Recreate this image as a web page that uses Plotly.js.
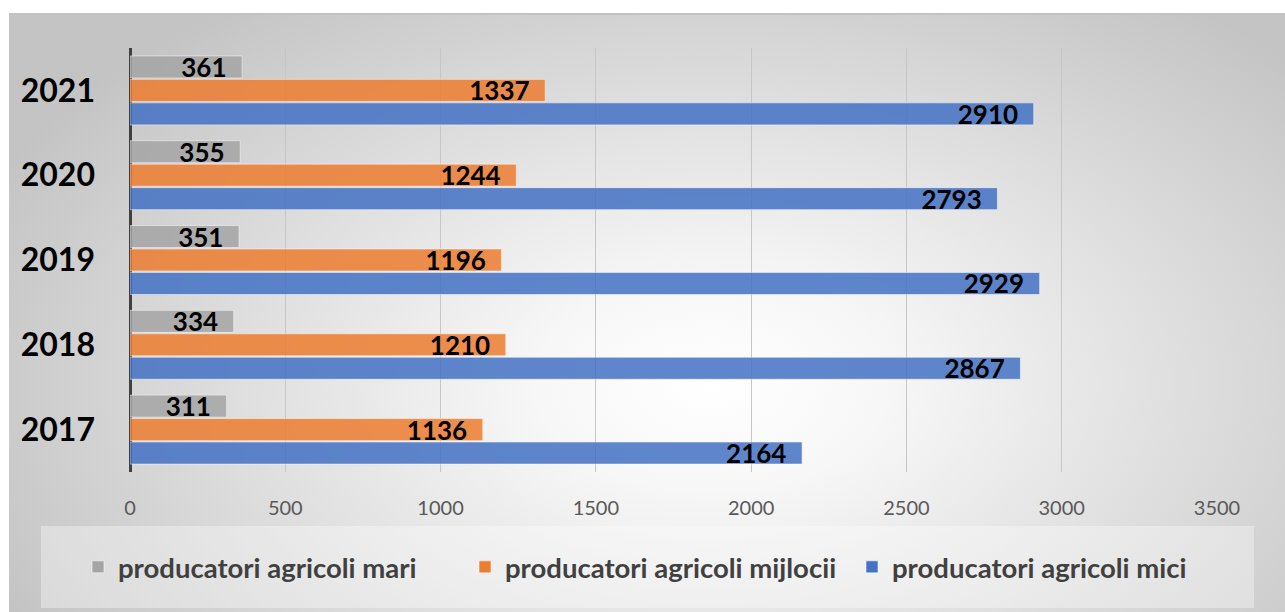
<!DOCTYPE html>
<html>
<head>
<meta charset="utf-8">
<script src="https://cdn.plot.ly/plotly-3.0.1.min.js"></script>
<style>
  html, body { margin: 0; padding: 0; background: #ffffff; }
  #bg {
    position: absolute; left: 9px; top: 13px; width: 1276px; height: 599px;
    border-top: 2px solid #c2c2c2;
    background: radial-gradient(ellipse 62% 80% at 55% 62%, #ffffff 0%, #f7f7f7 22%, #c4c4c4 100%);
  }
  #chart { position: absolute; left: 0; top: 0; width: 1285px; height: 612px; }
</style>
</head>
<body>
<div id="bg"></div>
<div id="chart"></div>
<script>
// Data
const years = ['2021', '2020', '2019', '2018', '2017'];
const seriesNames = ['producatori agricoli mari', 'producatori agricoli mijlocii', 'producatori agricoli mici'];
const mari = [361, 355, 351, 334, 311];
const mijlocii = [1337, 1244, 1196, 1210, 1136];
const mici = [2910, 2793, 2929, 2867, 2164];
const xTicks = [0, 500, 1000, 1500, 2000, 2500, 3000, 3500];

const colors = ['#A5A5A5', '#ED7D31', '#4472C4'];
const pad = '\u00a0\u00a0';
const labelFont = { family: 'Lato, sans-serif', size: 26, color: '#000000', weight: 'bold' };

function mk(name, vals, color) {
  return {
    type: 'bar', orientation: 'h', name: name,
    x: vals, y: years,
    marker: { color: color, opacity: 0.85, line: { color: 'rgba(255,255,255,0.55)', width: 1 } },
    text: vals.map(v => '<b>' + String(v) + '</b>' + pad),
    textposition: 'inside', insidetextanchor: 'end', constraintext: 'none',
    textfont: labelFont, insidetextfont: labelFont,
    cliponaxis: false, hoverinfo: 'x+name'
  };
}

const data = [
  mk(seriesNames[0], mari, colors[0]),
  mk(seriesNames[1], mijlocii, colors[1]),
  mk(seriesNames[2], mici, colors[2])
];

const layout = {
  width: 1285, height: 612,
  margin: { l: 130, r: 68, t: 48, b: 140 },
  paper_bgcolor: 'rgba(0,0,0,0)', plot_bgcolor: 'rgba(0,0,0,0)',
  barmode: 'group', bargap: 0.17, bargroupgap: 0.06,
  showlegend: true,
  legend: {
    orientation: 'h', x: (78 - 130) / 1087, xanchor: 'left', y: -0.224, yanchor: 'middle',
    traceorder: 'normal', bgcolor: 'rgba(0,0,0,0)', entrywidth: 342, entrywidthmode: 'pixels',
    font: { family: 'Lato, sans-serif', size: 27.5, color: '#404040', weight: 'bold' }
  },
  xaxis: {
    range: [0, 3500], tickvals: xTicks, ticktext: xTicks.map(String),
    showgrid: true, gridcolor: '#c6c6c6', gridwidth: 1,
    zeroline: true, zerolinecolor: '#404040', zerolinewidth: 3,
    showline: false, ticks: '', ticklabelstandoff: 22,
    tickfont: { family: 'Lato, sans-serif', size: 20, color: '#595959' },
    fixedrange: true
  },
  yaxis: {
    type: 'category', autorange: 'reversed',
    showgrid: false, zeroline: false, showline: false, ticks: '',
    ticklabelstandoff: 34,
    tickfont: { family: 'Lato, sans-serif', size: 32, color: '#000000', weight: 'bold' },
    fixedrange: true
  },
  shapes: [{
    type: 'rect', xref: 'paper', yref: 'paper', layer: 'below',
    x0: (41 - 130) / 1087, x1: (1254 - 130) / 1087,
    y0: (472 - 608) / 424, y1: (472 - 526) / 424,
    fillcolor: 'rgba(255,255,255,0.35)', line: { width: 0 }
  }]
};

Plotly.newPlot('chart', data, layout, { displayModeBar: false, staticPlot: true });
</script>
</body>
</html>
